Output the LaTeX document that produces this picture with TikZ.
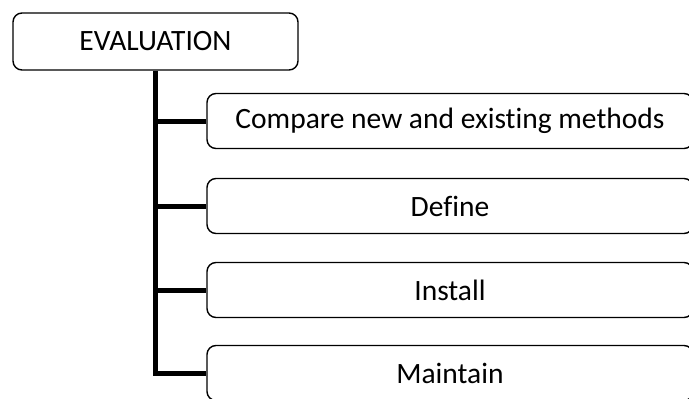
\documentclass[tikz,border=0pt]{standalone}
\usepackage{fontspec}
\setmainfont[Ligatures=NoCommon]{Carlito}
\begin{document}
\begin{tikzpicture}[x=1pt,y=-1pt,
  box/.style={draw, line width=1.4pt, rounded corners=9pt, inner sep=0pt,
              font=\fontsize{29.5}{32}\selectfont},
  stepbox/.style={box, minimum width=486pt, minimum height=55pt},
  branch/.style={line width=5pt},
]
\useasboundingbox (0,0) rectangle (689,399);
% head box
\node[box, minimum width=285pt, minimum height=57pt] (eval) at (155.5,41.5) {EVALUATION};
% the four steps
\node[stepbox] (cmp) at (450,121) {Compare new and existing methods};
\node[stepbox] (def) at (450,206) {Define};
\node[stepbox] (ins) at (450,290) {Install};
\node[stepbox] (mnt) at (450,373) {Maintain};
% trunk and branches
\draw[branch] (eval.south) |- (mnt.west);
\foreach \n in {cmp,def,ins} \draw[branch] (eval.south |- \n.west) -- (\n.west);
\end{tikzpicture}
\end{document}
